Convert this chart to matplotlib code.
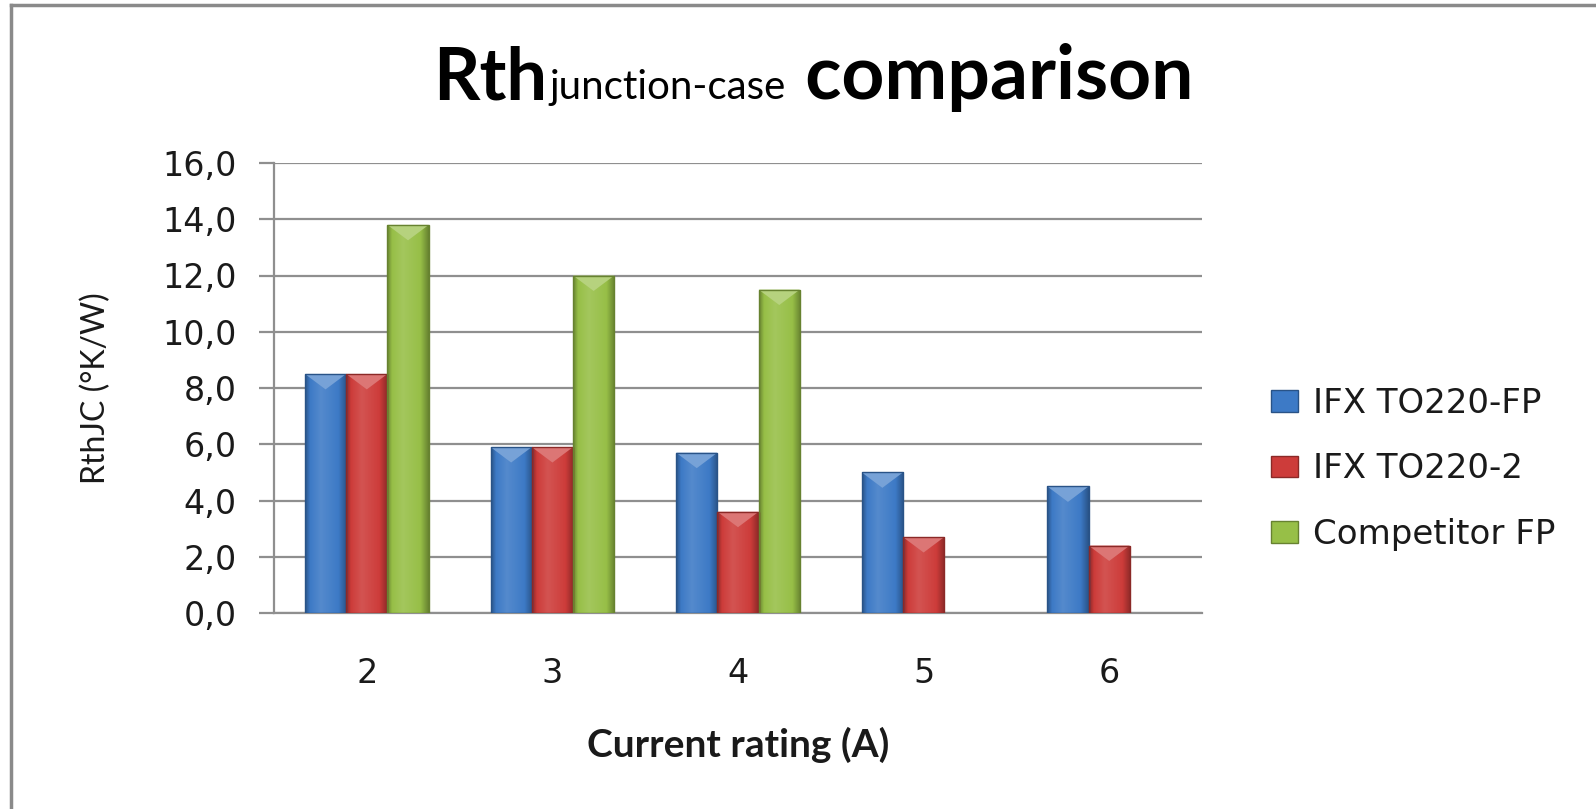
import numpy as np
import matplotlib.pyplot as plt
from matplotlib.colors import LinearSegmentedColormap, to_rgb
from matplotlib.patches import Polygon, Patch
from matplotlib.lines import Line2D
from matplotlib.ticker import FuncFormatter

# Datos
categorias = ['2', '3', '4', '5', '6']
ifx_fp = [8.5, 5.9, 5.7, 5.0, 4.5]
ifx_2 = [8.5, 5.9, 3.6, 2.7, 2.4]
competidor = [13.8, 12.0, 11.5, np.nan, np.nan]
series = ['IFX TO220-FP', 'IFX TO220-2', 'Competitor FP']
colores = ['#3D7AC6', '#CD3C3A', '#97BF47']

W, H = 1596, 809
fig = plt.figure(figsize=(W / 100, H / 100), dpi=100)
ax = fig.add_axes([274 / W, 1 - 613 / H, (1202 - 274) / W, (613 - 163) / H])

x = np.arange(len(categorias))
ancho = 1 / 4.5


def aclarar(c, f):
    c = np.array(to_rgb(c))
    return tuple(c + (1 - c) * f)


def oscurecer(c, f):
    return tuple(np.array(to_rgb(c)) * f)


for i, (vals, col) in enumerate(zip([ifx_fp, ifx_2, competidor], colores)):
    oscuro = oscurecer(col, 0.68)
    cmap = LinearSegmentedColormap.from_list(
        'g%d' % i,
        [(0, oscuro), (0.12, col), (0.38, aclarar(col, 0.12)), (0.8, col), (1, oscuro)])
    barras = ax.bar(x + (i - 1) * ancho, vals, ancho, facecolor='none',
                    edgecolor=oscuro, linewidth=1.0, zorder=4)
    for b in barras:
        h = b.get_height()
        if not np.isfinite(h):
            continue
        x0, bw = b.get_x(), b.get_width()
        grad = np.linspace(0, 1, 200).reshape(1, -1)
        im = ax.imshow(grad, extent=[x0, x0 + bw, 0, h], cmap=cmap, aspect='auto',
                       zorder=3, interpolation='bilinear')
        im.set_clip_path(b)
        # bisel superior
        d = min(0.55, h / 2)
        ax.add_patch(Polygon([[x0, h], [x0 + bw, h], [x0 + bw * 0.5, h - d]],
                             closed=True, facecolor=aclarar(col, 0.3),
                             edgecolor='none', zorder=3.5))

ax.set_xlim(-0.5, len(categorias) - 0.5)
ax.set_ylim(0, 16)
ax.set_xticks(x)
ax.set_xticklabels(categorias)
ax.set_yticks(np.arange(0, 17, 2))
ax.yaxis.set_major_formatter(FuncFormatter(lambda v, p: f'{v:.1f}'.replace('.', ',')))

gris = '#8f8f8f'
ax.yaxis.grid(True, color=gris, linewidth=1.6)
ax.set_axisbelow(True)
for s in ['top', 'right']:
    ax.spines[s].set_visible(False)
for s in ['left', 'bottom']:
    ax.spines[s].set_color(gris)
    ax.spines[s].set_linewidth(1.6)
ax.tick_params(axis='y', length=11, width=1.6, color=gris, pad=16,
               labelsize=24, labelcolor='#1a1a1a')
ax.tick_params(axis='x', length=0, pad=32, labelsize=24, labelcolor='#1a1a1a')

# Leyenda
manejadores = [Patch(facecolor=c, edgecolor=oscurecer(c, 0.68)) for c in colores]
fig.legend(manejadores, series, loc='center left',
           bbox_to_anchor=(1240 / W, 1 - 469 / H), frameon=False,
           fontsize=24.5, labelspacing=0.95, handlelength=0.8, handleheight=0.6,
           handletextpad=0.45, labelcolor='#1a1a1a')

# Títulos
fig.text(96 / W, 1 - 388 / H, 'RthJC (°K/W)', rotation=90, ha='center', va='center',
         fontsize=23, family='Lato', color='#1a1a1a')
fig.text(738 / W, 1 - 757 / H, 'Current rating (A)', ha='center', va='baseline',
         fontsize=28, family='Lato', weight='bold', color='#1a1a1a')

renderer = fig.canvas.get_renderer()
xpos = 433
base = 1 - 99 / H
for texto, tam, peso in [('Rth', 52, 'bold'), ('junction-case', 29, 'normal'),
                         (' comparison', 54, 'bold')]:
    t = fig.text(xpos / W, base, texto, fontsize=tam, weight=peso, family='Lato',
                 va='baseline', ha='left', color='black')
    xpos = t.get_window_extent(renderer).x1 + 2

# Marco exterior
fig.add_artist(Line2D([11 / W, 11 / W], [0, 1 - 5 / H], color='#8a8a8a', linewidth=2.5))
fig.add_artist(Line2D([11 / W, 1], [1 - 5 / H, 1 - 5 / H], color='#8a8a8a', linewidth=2.5))

fig.savefig('out.png', dpi=100)
